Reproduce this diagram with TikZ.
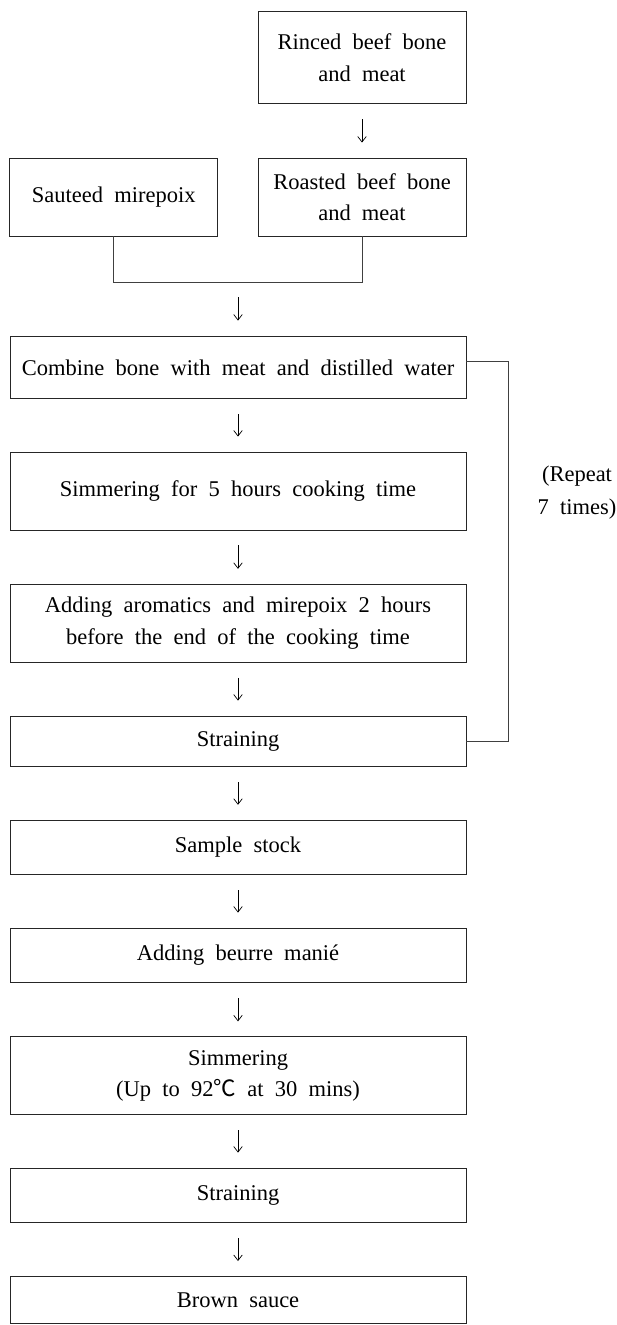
\documentclass[tikz,border=0pt]{standalone}
\usepackage{fontspec}
\setmainfont[WordSpace=2]{Liberation Serif}
\newfontfamily\cjk{Noto Sans CJK KR}
\usetikzlibrary{arrows.meta}
\begin{document}
\begin{tikzpicture}[x=1pt,y=-1pt,
  stepbox/.style={draw=black!85,line width=.9pt,inner sep=0pt,align=center,
    font=\fontsize{22.5}{31.5}\selectfont},
  halfbox/.style={stepbox,minimum width=208pt,minimum height=#1},
  widebox/.style={stepbox,minimum width=456pt,minimum height=#1},
  flow/.style={-{Straight Barb[length=5.5pt,width=8.5pt]},line width=.7pt,
    shorten <=#1,shorten >=#1},
  flow/.default=15pt,
  link/.style={draw=black!75,line width=.9pt}]
  \useasboundingbox (0,0) rectangle (617,1325);
  \node[halfbox=92pt] (rinse) at (362,57.6) {Rinced beef bone\\and meat};
  \node[halfbox=78pt] (saute) at (113.8,197) {Sauteed mirepoix};
  \node[halfbox=78pt] (roast) at (362,197) {Roasted beef bone\\and meat};
  \coordinate (merge) at (238,282.3);
  \node[widebox=62.5pt] (combine) at (238,367.3) {Combine bone with meat and distilled water};
  \node[widebox=78pt] (simmer) at (238,491) {Simmering for 5 hours cooking time};
  \node[widebox=78pt] (aroma) at (238,623.3) {Adding aromatics and mirepoix 2 hours\\before the end of the cooking time};
  \node[widebox=50.7pt] (strain) at (238,741.4) {Straining};
  \node[widebox=54.5pt] (sample) at (238,847.5) {Sample stock};
  \node[widebox=54.5pt] (beurre) at (238,955.3) {Adding beurre manié};
  \node[widebox=77.7pt] (heat) at (238,1075.7) {Simmering\\(Up to 92{\cjk ℃} at 30 mins)};
  \node[widebox=54.7pt] (strainb) at (238,1195.4) {Straining};
  \node[widebox=47pt] (sauce) at (238,1300) {Brown sauce};
  \node[align=center,font=\fontsize{22.5}{33}\selectfont] (repeat) at (577,493) {(Repeat\\7 times)};
  \draw[link] (saute.south) |- (merge) -| (roast.south);
  \draw[link] ([yshift=5.6pt]combine.east) -- ++(42.3,0) |- (strain.east);
  \draw[flow] (rinse) -- (roast);
  \draw[flow] (merge) -- (combine);
  \draw[flow] (combine) -- (simmer);
  \draw[flow] (simmer) -- (aroma);
  \draw[flow] (aroma) -- (strain);
  \draw[flow] (strain) -- (sample);
  \draw[flow] (sample) -- (beurre);
  \draw[flow] (beurre) -- (heat);
  \draw[flow] (heat) -- (strainb);
  \draw[flow] (strainb) -- (sauce);
\end{tikzpicture}
\end{document}
